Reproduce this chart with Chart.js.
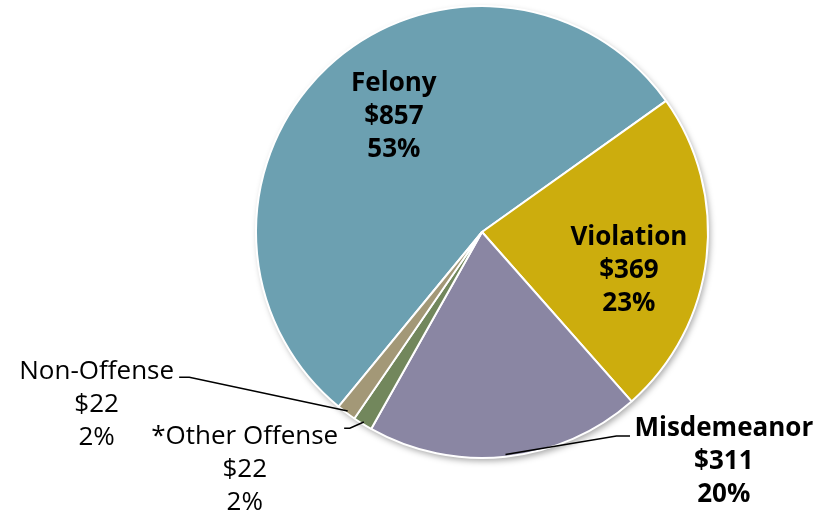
<!DOCTYPE html>
<html lang="en">
<head>
  <meta charset="UTF-8">
  <title>Spending by Offense Type</title>
  <style>
    html, body { margin: 0; padding: 0; background: #fff; }
    .chart-container { width: 834px; height: 514px; }
  </style>
</head>
<body>
  <div class="chart-container">
    <canvas id="offenseChart" width="834" height="514"></canvas>
  </div>

  <script src="https://cdn.jsdelivr.net/npm/chart.js"></script>
  <script>
    // data
    const categories = ['Felony', 'Violation', 'Misdemeanor', '*Other Offense', 'Non-Offense'];
    const amounts = [857, 369, 311, 22, 22];
    const amountLabels = ['$857', '$369', '$311', '$22', '$22'];
    const percentLabels = ['53%', '23%', '20%', '2%', '2%'];

    const sliceColors = ['#6ca0b1', '#ccad0d', '#8a86a3', '#72875c', '#a39877'];
    const boldLabel = [true, true, true, false, false];

    // label centre, in units of the radius from the pie centre
    const labelPos = [
      { dx: -0.39, dy: -0.51 },
      { dx: 0.65, dy: 0.17 },
      { dx: 1.07, dy: 1.015 },
      { dx: -1.05, dy: 1.05 },
      { dx: -1.705, dy: 0.765 }
    ];
    // leader lines: extra points after the slice edge (radius units)
    const leaders = [
      null,
      null,
      [{ dx: 0.595, dy: 0.903 }, { dx: 0.655, dy: 0.903 }],
      [{ dx: -0.585, dy: 0.868 }, { dx: -0.61, dy: 0.868 }],
      [{ dx: -1.295, dy: 0.643 }, { dx: -1.34, dy: 0.643 }]
    ];

    const FONT = '"Open Sans", Lato, sans-serif';

    const shadowPlugin = {
      id: 'pieShadow',
      beforeDatasetsDraw(chart) {
        const arc = chart.getDatasetMeta(0).data[0];
        if (!arc) return;
        const c = chart.ctx;
        c.save();
        c.shadowColor = 'rgba(0,0,0,0.35)';
        c.shadowBlur = 6;
        c.shadowOffsetX = 2;
        c.shadowOffsetY = 3;
        c.fillStyle = '#fff';
        c.beginPath();
        c.arc(arc.x, arc.y, arc.outerRadius, 0, Math.PI * 2);
        c.fill();
        c.restore();
      }
    };

    const labelPlugin = {
      id: 'sliceLabels',
      afterDatasetsDraw(chart) {
        const c = chart.ctx;
        const arcs = chart.getDatasetMeta(0).data;
        c.save();
        arcs.forEach((arc, i) => {
          const r = arc.outerRadius;
          const cx = arc.x, cy = arc.y;
          if (leaders[i]) {
            const mid = (arc.startAngle + arc.endAngle) / 2;
            c.strokeStyle = '#000';
            c.lineWidth = 1.5;
            c.beginPath();
            c.moveTo(cx + Math.cos(mid) * r * 0.99, cy + Math.sin(mid) * r * 0.99);
            leaders[i].forEach(p => c.lineTo(cx + p.dx * r, cy + p.dy * r));
            c.stroke();
          }
          const lx = cx + labelPos[i].dx * r;
          const ly = cy + labelPos[i].dy * r;
          const lines = [categories[i], amountLabels[i], percentLabels[i]];
          c.fillStyle = '#000';
          c.textAlign = 'center';
          c.textBaseline = 'middle';
          c.font = (boldLabel[i] ? 'bold ' : '') + '26px ' + FONT;
          lines.forEach((t, k) => c.fillText(t, lx, ly + (k - 1) * 33));
        });
        c.restore();
      }
    };

    const ctx = document.getElementById('offenseChart').getContext('2d');
    new Chart(ctx, {
      type: 'pie',
      data: {
        labels: categories,
        datasets: [{
          data: amounts,
          backgroundColor: sliceColors,
          borderColor: '#ffffff',
          borderWidth: 2
        }]
      },
      options: {
        responsive: false,
        animation: false,
        rotation: 219.4,
        layout: { padding: { top: 5, bottom: 55, left: 255, right: 125 } },
        plugins: {
          legend: { display: false },
          tooltip: { enabled: false }
        }
      },
      plugins: [shadowPlugin, labelPlugin]
    });
  </script>
</body>
</html>
